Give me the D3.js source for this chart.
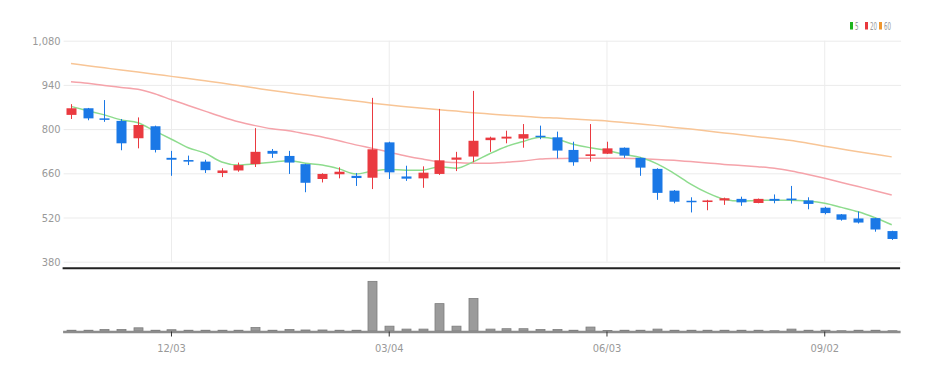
<!DOCTYPE html>
<html lang="en">
<head>
<meta charset="utf-8">
<title>Weekly candles</title>
<script src="https://cdnjs.cloudflare.com/ajax/libs/d3/7.8.5/d3.min.js"></script>
<style>
  body { margin: 0; background: #fff; }
  text { font-family: "Liberation Sans Narrow", "DejaVu Sans Condensed", "Roboto", sans-serif; }
</style>
</head>
<body>
<script>
var w = 940, h = 373;

// weekly dates (MM/DD)
var dates = ["10/22","10/29","11/05","11/12","11/19","11/26","12/03","12/10","12/17","12/24",
             "12/31","01/07","01/14","01/21","01/28","02/04","02/11","02/18","02/25","03/04",
             "03/11","03/18","03/25","04/01","04/08","04/15","04/22","04/29","05/06","05/13",
             "05/20","05/27","06/03","06/10","06/17","06/24","07/01","07/08","07/15","07/22",
             "07/29","08/05","08/12","08/19","08/26","09/02","09/09","09/16","09/23","09/30"];
var tickLabels = ["12/03", "03/04", "06/03", "09/02"];

var open  = [845,866,834,826,771,809,709,702,697,661, 669,689,731,715,689,642,657,652,646,758,
             650,644,658,703,713,765,770,770,779,774, 734,715,722,741,709,674,605,573,569,574,
             579,566,579,580,574,551,530,517,518,477];
var high  = [879,867,892,832,837,811,731,716,703,676, 694,803,737,731,690,660,679,661,899,760,
             684,682,864,728,921,776,795,816,811,792, 760,816,760,742,710,676,607,584,576,583,
             586,580,593,620,584,554,531,539,519,478];
var low   = [832,828,823,733,739,726,652,686,661,648, 665,680,709,658,600,631,644,620,610,642,
             636,614,655,667,695,728,755,741,768,707, 684,697,721,709,652,576,565,536,543,560,
             557,565,565,564,546,530,510,501,475,449];
var close = [866,834,830,755,813,734,703,697,670,669, 686,728,722,694,630,658,665,645,736,663,
             643,662,701,710,763,773,776,784,775,732, 695,720,739,716,678,598,570,569,574,581,
             568,579,573,575,563,534,513,504,482,452];

var ma5  = [872,858,845,829,820,794,768,741,724,696, 686,690,695,700,692,686,674,658,667,672,
            670,670,681,676,696,722,745,761,774,768, 752,741,732,720,710,690,660,626,598,578,
            572,574,575,575,572,565,552,538,519,497];
var ma20 = [950,945,938,932,926,912,893,875,857,839, 823,811,801,795,785,775,763,750,739,727,
            715,705,697,694,692,692,695,699,705,707, 708,708,708,708,706,704,701,697,693,688,
            685,681,676,667,656,644,631,618,605,591];
var ma60 = [1008,1001,994,987,981,974,967,960,953,946, 938,930,922,915,908,901,895,889,882,876,
            871,866,861,857,852,848,844,841,837,835, 832,829,826,821,816,811,805,800,794,788,
            782,776,770,764,755,746,737,728,720,712];

var volume = [60,60,120,120,250,60,100,60,60,60, 60,270,60,120,80,80,60,60,3900,380,
              150,150,2150,380,2550,150,180,180,120,120, 60,310,40,60,60,150,60,60,60,60,
              60,60,20,150,60,60,20,60,60,20];

var priceTicks = [380, 520, 660, 800, 940, 1080];
var maNames = ["5", "20", "60"];
var maLegendColors = ["#1fb51f", "#e8383d", "#f0962c"];
var maLineColors = ["#8edc8e", "#f5a3aa", "#f8c596"];

var left = 62.6, right = 900.1;

var svg = d3.select("body").append("svg")
  .attr("width", w)
  .attr("height", h);

var x = d3.scaleBand()
  .domain(dates)
  .range([left, right]);

var y = d3.scaleLinear()
  .domain([380, 1080])
  .range([261.7, 40.7]);

var yv = d3.scaleLinear()
  .domain([0, 4250])
  .range([331, 276.9]);

function cx(d) { return x(d) + x.bandwidth() / 2; }

// horizontal grid + labels
var yAxis = d3.axisLeft(y)
  .tickValues(priceTicks)
  .tickSize(-(right - left))
  .tickPadding(3)
  .tickFormat(d3.format(","));

var gy = svg.append("g")
  .attr("transform", "translate(" + (left + 1) + ",0)")
  .call(yAxis);
gy.select(".domain").remove();
gy.selectAll(".tick line").attr("stroke", "#ebebeb");
gy.selectAll(".tick text")
  .attr("fill", "#999")
  .attr("font-size", "11px");

// vertical grid lines
svg.append("g").selectAll("line")
  .data(tickLabels)
  .enter()
  .append("line")
  .attr("x1", function(d) { return cx(d); })
  .attr("x2", function(d) { return cx(d); })
  .attr("y1", 40.7)
  .attr("y2", 261.7)
  .attr("stroke", "#ececec");

// moving averages
var maSeries = [ma5, ma20, ma60];
var line = d3.line()
  .x(function(d, i) { return cx(dates[i]); })
  .y(function(d) { return y(d); })
  .curve(d3.curveMonotoneX);

svg.append("g").selectAll("path")
  .data(maSeries.slice().reverse())
  .enter()
  .append("path")
  .attr("d", line)
  .attr("fill", "none")
  .attr("stroke", function(d, i) { return maLineColors[2 - i]; })
  .attr("stroke-width", 1.5);

// candles
var candles = svg.append("g").selectAll("g")
  .data(dates)
  .enter()
  .append("g");

function col(i) { return close[i] >= open[i] ? "#ea3a40" : "#1a78e6"; }

candles.append("line")
  .attr("x1", function(d) { return Math.round(cx(d)) + 0.5; })
  .attr("x2", function(d) { return Math.round(cx(d)) + 0.5; })
  .attr("y1", function(d, i) { return y(high[i]); })
  .attr("y2", function(d, i) { return y(low[i]); })
  .attr("stroke", function(d, i) { return col(i); })
  .attr("stroke-width", 1);

candles.append("rect")
  .attr("x", function(d) { return Math.round(cx(d)) - 4.5; })
  .attr("width", 10)
  .attr("y", function(d, i) { return y(Math.max(open[i], close[i])); })
  .attr("height", function(d, i) {
    return Math.max(1.5, Math.abs(y(open[i]) - y(close[i])));
  })
  .attr("fill", function(d, i) { return col(i); });

// separator
svg.append("line")
  .attr("x1", left).attr("x2", right)
  .attr("y1", 268.3).attr("y2", 268.3)
  .attr("stroke", "#222")
  .attr("stroke-width", 2);

// volume bars
svg.append("g").selectAll("rect")
  .data(volume)
  .enter()
  .append("rect")
  .attr("x", function(d, i) { return Math.round(cx(dates[i])) - 4; })
  .attr("width", 9)
  .attr("y", function(d) { return yv(d); })
  .attr("height", function(d) { return yv(0) - yv(d); })
  .attr("fill", "#9b9b9b")
  .attr("stroke", "#7d7d7d")
  .attr("stroke-width", 0.8);

// volume baseline + x axis
var xAxis = d3.axisBottom(x)
  .tickValues(tickLabels)
  .tickSize(5)
  .tickSizeOuter(0)
  .tickPadding(8);

var gx = svg.append("g")
  .attr("transform", "translate(0,331.5)")
  .call(xAxis);
gx.select(".domain").attr("stroke", "#8c8c8c").attr("stroke-width", 2.5);
gx.selectAll(".tick line").attr("stroke", "#333");
gx.selectAll(".tick text")
  .attr("fill", "#999")
  .attr("font-size", "11px");

// legend
var legendX = [850, 865, 879];
var legend = svg.append("g").selectAll("g")
  .data(maNames)
  .enter()
  .append("g")
  .attr("transform", function(d, i) { return "translate(" + legendX[i] + ",22)"; });

legend.append("rect")
  .attr("width", 3)
  .attr("height", 7.5)
  .attr("fill", function(d, i) { return maLegendColors[i]; });

legend.append("text")
  .attr("x", 5)
  .attr("y", 8)
  .attr("font-size", "11px")
  .attr("fill", "#999")
  .attr("textLength", function(d) { return d.length * 3.5; })
  .attr("lengthAdjust", "spacingAndGlyphs")
  .text(function(d) { return d; });
</script>
</body>
</html>
